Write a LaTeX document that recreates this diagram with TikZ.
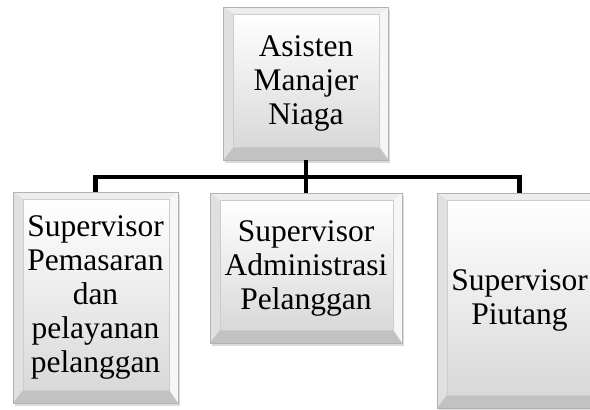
\documentclass[tikz,border=0pt]{standalone}
\usepackage{fontspec}
\setmainfont{Liberation Serif}
\usetikzlibrary{shadows}
\tikzset{
  bbox/.style={rectangle, draw=gray!60, line width=0.6pt, fill=gray!20,
    inner sep=0pt, align=center, text=black,
    font=\fontsize{31.5}{34}\selectfont,
    drop shadow={shadow xshift=1.5pt, shadow yshift=-3pt, opacity=0.35, fill=gray!80},
    path picture={
      \coordinate (sw) at (path picture bounding box.south west);
      \coordinate (ne) at (path picture bounding box.north east);
      \coordinate (nw) at (sw |- ne);
      \coordinate (se) at (ne |- sw);
      \coordinate (isw) at ([xshift=10pt,yshift=13pt]sw);
      \coordinate (ine) at ([xshift=-9pt,yshift=-7pt]ne);
      \coordinate (inw) at (isw |- ine);
      \coordinate (ise) at (ine |- isw);
      \fill[gray!14] (nw) -- (ne) -- (ine) -- (inw) -- cycle;
      \fill[gray!24] (nw) -- (inw) -- (isw) -- (sw) -- cycle;
      \fill[gray!7] (ne) -- (se) -- (ise) -- (ine) -- cycle;
      \fill[gray!48] (sw) -- (isw) -- (ise) -- (se) -- cycle;
      \shade[top color=white, bottom color=gray!30] (isw) rectangle (ine);
      \draw[gray!40, line width=0.4pt] (isw) rectangle (ine);
    }},
  conn/.style={line width=4.5pt, black},
}
\begin{document}
\begin{tikzpicture}[x=1pt,y=-1pt]
\useasboundingbox (0,0) rectangle (590,410);
\clip (0,0) rectangle (590,410);
\node[bbox, minimum width=165pt, minimum height=153pt] (T) at (306,83.5) {Asisten\\Manajer\\Niaga};
\node[bbox, minimum width=165pt, minimum height=211pt] (L) at (95.5,297.5) {Supervisor\\Pemasaran\\dan\\pelayanan\\pelanggan};
\node[bbox, minimum width=192pt, minimum height=150pt] (M) at (306,268) {Supervisor\\Administrasi\\Pelanggan};
\node[bbox, minimum width=165pt, minimum height=215pt] (R) at (519.5,300.5) {Supervisor\\Piutang};
\coordinate (bus) at (306,177);
\draw[conn] (T.south) -- (M.north);
\draw[conn] (L.north) -- (L.north |- bus) -- (R.north |- bus) -- (R.north);
\end{tikzpicture}
\end{document}
